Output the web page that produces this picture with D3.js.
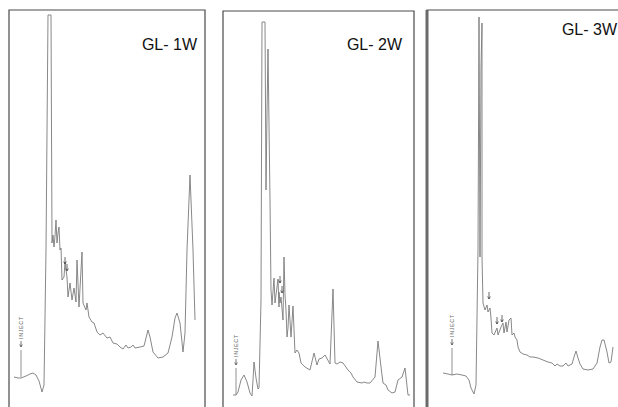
<!DOCTYPE html>
<html><head><meta charset="utf-8">
<script src="https://cdn.jsdelivr.net/npm/d3@7"></script>
<style>body{margin:0;background:#fff}svg{display:block}</style>
</head><body>
<svg id="c" width="618" height="407"></svg>
<script>
// Panel titles
const titles = ["GL- 1W", "GL- 2W", "GL- 3W"];
// Retention position (px-like units from panel left) and detector signal (units above bottom)
const gl1W_time = [5,9,12,17,21,24,27,30,33,35,37,39,42,43,44,45,46,47,48,49,50,51,52,53,55,56,57,58,59,61,63,65,67,68,70,73,74,77,78,80,83,85,88,91,94,98,101,104,108,111,114,117,119,122,124,126,131,135,137,139,141,144,149,154,159,163,166,168,171,174,176,178,181,184,186];
const gl1W_signal = [30,29,29,31,33,34,32,26,15,22,157,392,392,164,172,160,171,187,164,174,180,157,159,127,130,145,137,130,110,124,107,119,105,147,100,155,104,97,104,90,85,84,75,72,74,69,70,64,63,60,58,62,59,60,62,59,60,61,69,77,70,55,49,50,54,70,89,94,84,55,74,157,232,157,87];
const gl2W_time = [10,13,15,18,21,24,27,29,30,31,33,35,36,38,39,42,43,44,45,47,48,49,51,52,55,56,56,57,58,60,61,62,63,64,65,66,68,70,72,74,76,78,80,82,87,91,94,96,99,102,107,110,112,114,117,120,125,128,130,134,139,141,144,147,152,155,158,160,163,165,169,172,175,179,182,185,187];
const gl2W_signal = [12,12,15,27,32,25,14,11,27,45,29,18,19,107,385,385,217,294,358,207,117,102,129,104,128,100,115,104,110,87,150,112,97,70,79,102,70,101,54,57,54,44,42,40,37,54,42,48,49,52,43,118,44,43,45,44,37,34,30,25,24,25,24,24,30,66,40,24,22,17,14,15,27,30,39,12,12];
const gl3W_time = [16,21,25,30,35,39,42,44,47,49,51,52,53,54,55,55,56,58,60,61,63,64,65,67,70,71,74,76,77,79,80,82,84,85,87,88,90,91,93,96,100,103,106,111,116,121,125,128,130,133,136,139,141,145,147,149,151,153,156,161,166,170,173,175,177,180,182,184,186];
const gl3W_signal = [34,33,32,33,32,31,27,19,13,22,157,390,150,340,384,150,104,97,102,95,99,89,74,72,79,72,80,84,74,85,75,87,89,72,74,70,67,60,55,53,52,50,50,49,47,45,44,41,43,41,41,44,41,43,50,56,49,43,38,37,38,44,60,67,67,55,44,45,60];
// Small peak-marker arrows (time, signal at arrow tip)
const gl1W_marks = [[56,143],[58,136]];
const gl2W_marks = [[57,124],[59,114]];
const gl3W_marks = [[62,108],[70,83],[75,85]];
// Inject marker position (time) and baseline signal
const injectTime = [12, 13, 25];
const injectBase = [30, 12, 32];

const panels = [
  {left: 9, right: 205, top: 10, t: gl1W_time, s: gl1W_signal, m: gl1W_marks, titleX: 197, titleY: 50, border: 1.2},
  {left: 223, right: 414, top: 11, t: gl2W_time, s: gl2W_signal, m: gl2W_marks, titleX: 402, titleY: 50, border: 1.2},
  {left: 427, right: 640, top: 10, t: gl3W_time, s: gl3W_signal, m: gl3W_marks, titleX: 617, titleY: 35, border: 3}
];

const svg = d3.select("#c");
const H = 407;
const y = d3.scaleLinear().domain([0, 407]).range([H, 0]);

panels.forEach((p, i) => {
  const x = d3.scaleLinear().domain([0, 100]).range([p.left, p.left + 100]);
  const g = svg.append("g");
  // frame (open at bottom)
  g.append("path")
    .attr("d", `M${p.left},${H + 5}V${p.top}H${p.right}V${H + 5}`)
    .attr("fill", "none").attr("stroke", "#4a4a4a").attr("stroke-width", 1.2);
  if (p.border > 2) {
    g.append("line").attr("x1", p.left).attr("x2", p.left).attr("y1", p.top).attr("y2", H)
      .attr("stroke", "#6a6a6a").attr("stroke-width", p.border);
  }
  const data = p.t.map((d, k) => [d, p.s[k]]);
  g.append("path").datum(data)
    .attr("d", d3.line().x(d => x(d[0])).y(d => y(d[1])))
    .attr("fill", "none").attr("stroke", "#7a7a7a").attr("stroke-width", 0.9)
    .attr("stroke-linejoin", "round");
  // inject marker
  const ix = x(injectTime[i]), iy = y(injectBase[i]);
  g.append("line").attr("x1", ix).attr("x2", ix).attr("y1", iy).attr("y2", iy - 27)
    .attr("stroke", "#777").attr("stroke-width", 0.8);
  // small arrow pointing down (toward the line) above it
  g.append("path")
    .attr("d", `M${ix},${iy - 30}V${iy - 36}M${ix - 1.3},${iy - 32.5}L${ix},${iy - 30}L${ix + 1.3},${iy - 32.5}`)
    .attr("fill", "none").attr("stroke", "#555").attr("stroke-width", 0.8);
  g.append("text").text("INJECT")
    .attr("transform", `translate(${ix + 1.8},${iy - 38}) rotate(-90)`)
    .attr("font-family", "Liberation Sans, Arial, sans-serif")
    .attr("font-size", 5.5).attr("letter-spacing", 0.6).attr("fill", "#666");
  // peak-marker arrows
  p.m.forEach(d => {
    const ax = x(d[0]), ay = y(d[1]);
    g.append("path")
      .attr("d", `M${ax},${ay - 7}V${ay}M${ax - 1.3},${ay - 2.5}L${ax},${ay}L${ax + 1.3},${ay - 2.5}`)
      .attr("fill", "none").attr("stroke", "#444").attr("stroke-width", 0.8);
  });
  // title
  g.append("text").text(titles[i])
    .attr("x", p.titleX).attr("y", p.titleY)
    .attr("text-anchor", "end")
    .attr("font-family", "Liberation Sans, Arial, sans-serif")
    .attr("font-size", 16).attr("fill", "#111");
});
</script>
</body></html>
